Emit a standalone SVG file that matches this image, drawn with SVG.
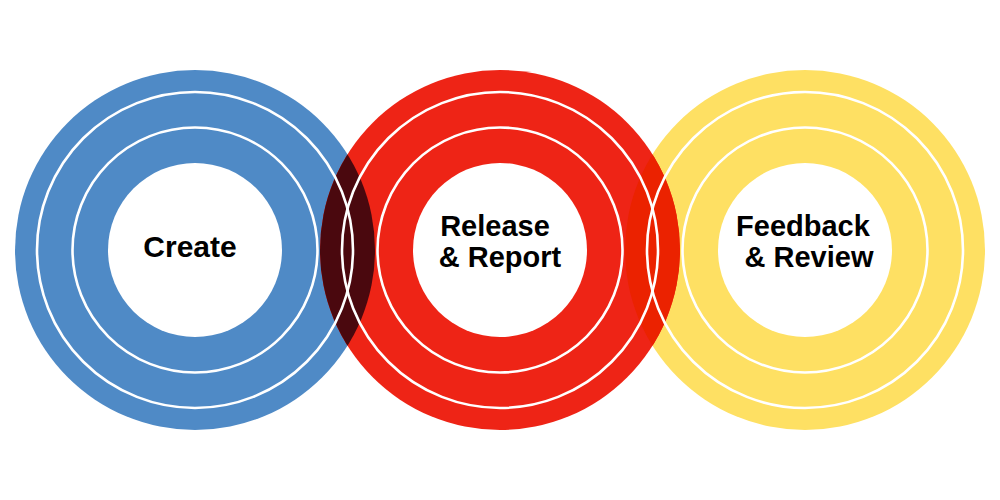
<svg xmlns="http://www.w3.org/2000/svg" width="1000" height="500" viewBox="0 0 1000 500">
  <style>
    .ring { fill: none; stroke: #ffffff; stroke-width: 2.6; }
    .hole { fill: #ffffff; }
    .label { font-family: "Liberation Sans", Arial, Helvetica, sans-serif; font-weight: bold; font-size: 29px; fill: #000000; text-anchor: middle; }
  </style>
  <defs>
    <clipPath id="clipBlue"><circle cx="195" cy="250" r="180"/></clipPath>
    <clipPath id="clipYellow"><circle cx="805" cy="250" r="180"/></clipPath>
  </defs>
  <rect width="1000" height="500" fill="#ffffff"/>
  <g id="discs">
    <circle cx="195" cy="250" r="180" fill="#4f8ac6"/>
    <circle cx="805" cy="250" r="180" fill="#fee063"/>
    <circle cx="500" cy="250" r="180" fill="#ee2416"/>
    <circle cx="500" cy="250" r="180" fill="#4a080e" clip-path="url(#clipBlue)"/>
    <circle cx="500" cy="250" r="180" fill="#eb2200" clip-path="url(#clipYellow)"/>
  </g>
  <g id="node-create">
    <circle class="ring" cx="195" cy="250" r="158"/>
    <circle class="ring" cx="195" cy="250" r="122.5"/>
    <circle class="hole" cx="195" cy="250" r="87"/>
    <text class="label" x="190" y="257" style="font-size:30px">Create</text>
  </g>
  <g id="node-release">
    <circle class="ring" cx="500" cy="250" r="158"/>
    <circle class="ring" cx="500" cy="250" r="122.5"/>
    <circle class="hole" cx="500" cy="250" r="87"/>
    <text class="label" x="495" y="236">Release</text>
    <text class="label" x="500" y="267">&amp; Report</text>
  </g>
  <g id="node-feedback">
    <circle class="ring" cx="805" cy="250" r="158"/>
    <circle class="ring" cx="805" cy="250" r="122.5"/>
    <circle class="hole" cx="805" cy="250" r="87"/>
    <text class="label" x="803" y="236">Feedback</text>
    <text class="label" x="809" y="267">&amp; Review</text>
  </g>
  <g id="connectors"></g>
</svg>
